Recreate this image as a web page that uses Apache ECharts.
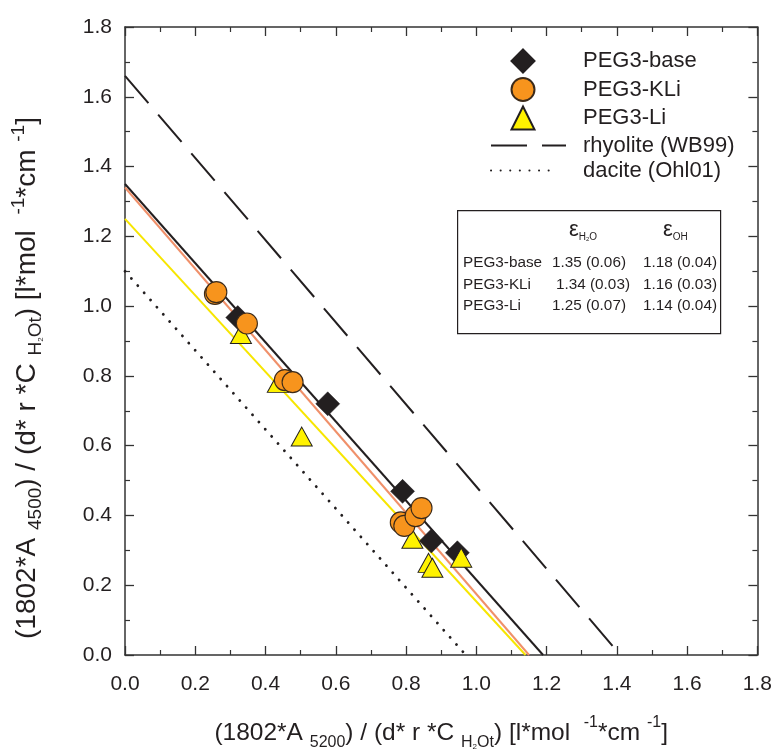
<!DOCTYPE html>
<html>
<head>
<meta charset="utf-8">
<script src="https://cdn.jsdelivr.net/npm/echarts@6/dist/echarts.min.js"></script>
<style>html,body{margin:0;padding:0;background:#fff;}#c{width:775px;height:756px;}</style>
</head>
<body>
<div id="c"></div>
<script>
// ---- data ----
const xTicks = [0.0,0.2,0.4,0.6,0.8,1.0,1.2,1.4,1.6,1.8];
const yTicks = [0.0,0.2,0.4,0.6,0.8,1.0,1.2,1.4,1.6,1.8];
const baseData = [[0.321,0.967],[0.577,0.72],[0.79,0.469],[0.872,0.327],[0.946,0.293]];
const kliData = [[0.256,1.035],[0.26,1.04],[0.347,0.95],[0.455,0.788],[0.477,0.782],[0.785,0.38],[0.795,0.37],[0.827,0.398],[0.844,0.421]];
const liData = [[0.33,0.92],[0.435,0.78],[0.503,0.626],[0.818,0.333],[0.864,0.264],[0.875,0.25],[0.957,0.279]];
const baseLine = [[0,1.35],[1.19,0]];
const kliLine = [[0,1.34],[1.15,0]];
const liLine = [[0,1.25],[1.14,0]];
const rhyoliteLine = [[0,1.66],[1.41,0]];
const daciteLine = [[0,1.10],[0.97,0]];
const tableRows = [
  ['PEG3-base','1.35 (0.06)','1.18 (0.04)'],
  ['PEG3-KLi','1.34 (0.03)','1.16 (0.03)'],
  ['PEG3-Li','1.25 (0.07)','1.14 (0.04)']
];

const FONT = '"Liberation Sans", Arial, sans-serif';
const TXT = '#231f20';
const chart = echarts.init(document.getElementById('c'));

function makeRich(f, s) {
  return {
    t: {fontSize: f, lineHeight: 36, color: TXT, fontFamily: FONT},
    s: {fontSize: s, lineHeight: 12, verticalAlign: 'bottom', color: TXT, fontFamily: FONT},
    ss: {fontSize: 8, lineHeight: 8, verticalAlign: 'bottom', color: TXT, fontFamily: FONT},
    p: {fontSize: s, lineHeight: 14, verticalAlign: 'top', color: TXT, fontFamily: FONT}
  };
}

function axisCommon(pos, showLabel) {
  return {
    type: 'value', min: 0, max: 1.8, interval: 0.2, position: pos,
    axisLine: {show: true, onZero: false, lineStyle: {color: '#333', width: 1.5}},
    axisTick: {show: true, inside: true, length: 9, lineStyle: {color: '#333', width: 1.3}},
    minorTick: {show: true, splitNumber: 2, length: 5, lineStyle: {color: '#333', width: 1.2}},
    splitLine: {show: false},
    axisLabel: {show: showLabel, color: TXT, fontSize: 21, fontFamily: FONT,
      formatter: v => v.toFixed(1)}
  };
}

const xMain = Object.assign(axisCommon('bottom', true), {
  name: '{t|(1802*A }{s|5200}{t|) / (d* r *C }{s|H}{ss|2}{s|Ot}{t|) [l*mol  }{p|-1}{t|*cm }{p|-1}{t|]}',
  nameLocation: 'middle', nameGap: 60,
  nameTextStyle: {rich: makeRich(24.5, 16)}
});
xMain.axisLabel.margin = 19;
const yMain = Object.assign(axisCommon('left', true), {
  name: '{t|(1802*A }{s|4500}{t|) / (d* r *C }{s|H}{ss|2}{s|Ot}{t|) [l*mol  }{p|-1}{t|*cm }{p|-1}{t|]}',
  nameLocation: 'middle', nameGap: 80, nameRotate: 90,
  nameTextStyle: {rich: makeRich(28, 19), padding: [0, 74, 0, 0]}
});
yMain.axisLabel.margin = 13;

const legendText = {fontSize: 22, color: TXT, fontFamily: FONT, lineHeight: 23};

const option = {
  animation: false,
  backgroundColor: '#fff',
  grid: {left: 125, right: 16, top: 27, bottom: 96},
  xAxis: [xMain, axisCommon('top', false)],
  yAxis: [yMain, axisCommon('right', false)],
  legend: [
    {
      orient: 'vertical', left: 505.5, top: 43.5,
      itemWidth: 23, itemHeight: 23, itemGap: 3.5,
      textStyle: Object.assign({padding: [0,0,0,43.5]}, legendText),
      data: ['PEG3-base','PEG3-KLi','PEG3-Li']
    },
    {
      orient: 'vertical', left: 485, top: 129,
      itemWidth: 75, itemHeight: 14,
      itemStyle: {opacity: 0},
      textStyle: Object.assign({padding: [0,0,0,12]}, legendText),
      data: ['rhyolite (WB99)']
    },
    {
      orient: 'vertical', left: 485, top: 154,
      itemWidth: 60, itemHeight: 14,
      itemStyle: {opacity: 0},
      textStyle: Object.assign({padding: [0,0,0,27]}, legendText),
      data: ['dacite (Ohl01)']
    }
  ],
  series: [
    {name: 'rhyolite (WB99)', type: 'line', data: rhyoliteLine, showSymbol: false, symbol: 'none', z: 1,
      lineStyle: {color: '#231f20', width: 2, type: [36, 15]}, itemStyle: {color: '#231f20'}},
    {name: 'dacite (Ohl01)', type: 'line', data: daciteLine, showSymbol: false, symbol: 'none', z: 1,
      lineStyle: {color: '#231f20', width: 2.8, type: [0.1, 9.5], cap: 'round'}, itemStyle: {color: '#231f20'}},
    {name: 'fit-base', type: 'line', data: baseLine, showSymbol: false, symbol: 'none', z: 1,
      lineStyle: {color: '#231f20', width: 2}},
    {name: 'fit-KLi', type: 'line', data: kliLine, showSymbol: false, symbol: 'none', z: 1,
      lineStyle: {color: '#f0906a', width: 2}},
    {name: 'fit-Li', type: 'line', data: liLine, showSymbol: false, symbol: 'none', z: 1,
      lineStyle: {color: '#f7e600', width: 2}},
    {name: 'PEG3-base', type: 'scatter', data: baseData, symbol: 'diamond', symbolSize: 24, z: 3,
      itemStyle: {color: '#231f20', borderColor: '#231f20', borderWidth: 0.5, opacity: 1}},
    {name: 'PEG3-Li', type: 'scatter', data: liData, symbol: 'triangle', symbolSize: [21, 19], z: 4,
      itemStyle: {color: '#fff200', borderColor: '#231f20', borderWidth: 1, opacity: 1}},
    {name: 'PEG3-KLi', type: 'scatter', data: kliData, symbol: 'circle', symbolSize: 21, z: 5,
      itemStyle: {color: '#f7941d', borderColor: '#3b2a1a', borderWidth: 1.1, opacity: 1}}
  ],
  graphic: [
    {type: 'rect', left: 457, top: 210, shape: {width: 263, height: 123}, z: 10,
      style: {fill: '#fff', stroke: '#231f20', lineWidth: 1.2}},
    {type: 'text', x: 569, y: 218, z: 11, style: {
      text: '{e|ε}{s|H}{ss|2}{s|O}', fill: TXT,
      rich: {e: {fontSize: 22, lineHeight: 24, fontFamily: FONT, fill: TXT},
             s: {fontSize: 10, lineHeight: 8, verticalAlign: 'bottom', fontFamily: FONT, fill: TXT},
             ss: {fontSize: 6, lineHeight: 4, verticalAlign: 'bottom', fontFamily: FONT, fill: TXT}}}},
    {type: 'text', x: 663, y: 218, z: 11, style: {
      text: '{e|ε}{s|OH}', fill: TXT,
      rich: {e: {fontSize: 22, lineHeight: 24, fontFamily: FONT, fill: TXT},
             s: {fontSize: 10, lineHeight: 8, verticalAlign: 'bottom', fontFamily: FONT, fill: TXT}}}},
    ...tableRows.flatMap((r, i) => {
      const y = 263 + i * 21.5;
      const c1 = i === 1 ? 556 : 552;
      return [
        {type: 'text', x: 463, y: y, z: 11, style: {text: r[0], fill: TXT, font: '15.3px ' + FONT, textVerticalAlign: 'middle'}},
        {type: 'text', x: c1, y: y, z: 11, style: {text: r[1], fill: TXT, font: '15.3px ' + FONT, textVerticalAlign: 'middle'}},
        {type: 'text', x: 643, y: y, z: 11, style: {text: r[2], fill: TXT, font: '15.3px ' + FONT, textVerticalAlign: 'middle'}}
      ];
    })
  ]
};
chart.setOption(option);
</script>
</body>
</html>
